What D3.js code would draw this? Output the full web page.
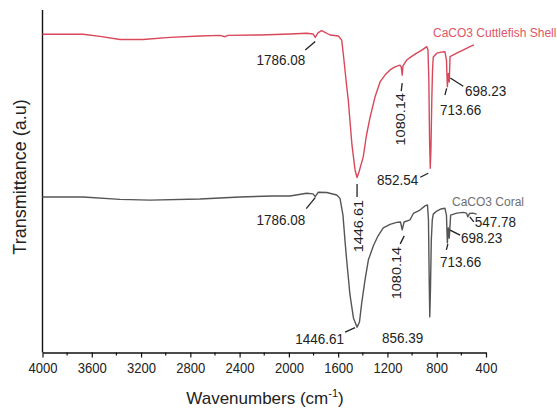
<!DOCTYPE html>
<html>
<head>
<meta charset="utf-8">
<script src="https://cdn.jsdelivr.net/npm/d3@7"></script>
<style>
body { margin:0; background:#fff; }
text { font-family:"Liberation Sans", Arial, sans-serif; fill:#222; }
.curve { fill:none; stroke-width:1.4px; stroke-linejoin:round; }
.leader { stroke:#222; stroke-width:1.3px; }
</style>
</head>
<body>
<div id="chart"></div>
<script>
// FTIR spectra: wavenumber (cm-1) and transmittance (a.u.)
var shellWn = [4000,3671,3533,3371,3184,2965,2722,2559,2519,2494,2235,1991,1856,1804,1786,1764,1734,1666,1599,1571,1553,1532,1518,1488,1463,1446.61,1431,1396,1370,1342,1301,1260,1220,1179,1139,1098,1088,1080.14,1074,1044,1009,963,920,881,871,864,858,852.54,847,840,834,828,800,765,733,721,713.66,706,698.23,692,638,587,530,498];
var shellT  = [92.9,92.9,92.3,91.4,91.4,92.0,92.4,92.6,92.2,92.6,92.7,93.0,93.2,93.0,92.0,93.3,94.0,92.7,92.4,91.2,85.4,78.1,73.7,60.6,53.3,51.1,52.7,57.2,63.5,68.5,74.6,79.0,81.0,82.5,83.4,83.9,83.4,81.0,83.7,85.4,86.3,87.4,88.3,89.3,88.3,79.6,62.0,53.8,59.1,73.7,82.5,86.3,87.4,87.7,87.8,85.4,77.6,81.4,79.0,86.4,87.4,88.3,89.3,89.8];

var coralWn = [4000,3671,3371,3127,2722,2397,2129,1991,1856,1804,1786,1761,1693,1612,1585,1561,1545,1531,1504,1476,1446.61,1427,1409,1382,1355,1315,1277,1234,1179,1125,1094,1080.14,1065,1017,990,936,895,875,867,861,856.39,851,844,836,828,800,765,733,721,713.66,706,698.23,687,638,584,558,547.78,534,506,476];
var coralT  = [45.4,45.4,44.7,44.5,44.8,45.4,45.7,45.7,46.5,46.3,45.5,46.8,46.7,46.0,45.0,40.1,32.8,27.0,16.8,10.1,7.4,8.9,14.4,21.2,27.0,31.1,34.0,36.4,37.4,38.0,38.1,35.8,38.1,38.7,40.6,41.6,42.8,43.1,38.7,21.2,10.4,18.2,32.8,38.7,40.4,41.3,41.9,42.1,40.1,32.0,36.4,33.4,40.1,40.7,40.9,40.7,39.6,40.6,40.7,40.4];

var xTicks = [4000,3600,3200,2800,2400,2000,1600,1200,800,400];
var shellPeaks = ["1786.08","1446.61","1080.14","852.54","713.66","698.23"];
var coralPeaks = ["1786.08","1446.61","1080.14","856.39","713.66","698.23","547.78"];
var seriesNames = ["CaCO3 Cuttlefish Shell","CaCO3 Coral"];

// label placement relative to each peak tip: leader [x1,y1,x2,y2], text [dx,dy]
var shellLayout = [
  {l:[-10,12.5,0,4], t:[-10,27.5], a:"end"},
  {l:[0,6.5,0,19.5], t:[6,22.5], a:"end", rot:true},
  {l:[0,8,-1,16], t:[3,18], a:"end", rot:true},
  {l:[-10,9,-2,5], t:[-12,16.7], a:"end"},
  {l:[-2.4,8.3,-0.7,1.6], t:[-7.4,28.3], a:"start"},
  {l:[1,-4,14,4.3], t:[15.8,14], a:"start"}
];
var coralLayout = [
  {l:[-9,12,0,1], t:[-10,28.5], a:"end"},
  {l:[-12,5,-2,0.5], t:[-13,17], a:"end"},
  {l:[2,6,-2,14], t:[-1,17], a:"end", rot:true},
  {l:null, t:[-6.5,26], a:"end"},
  {l:[-1,7,0.5,1], t:[-7.4,23.7], a:"start"},
  {l:[0.8,-8,10.8,-3], t:[11.8,5.3], a:"start"},
  {l:[2,0,6,5], t:[7,10], a:"start"}
];

var width = 557, height = 408;
var squeeze = 0.87; // figure text looks narrow

var svg = d3.select("#chart").append("svg")
  .attr("width", width)
  .attr("height", height);

var x = d3.scaleLinear().domain([4000, 400]).range([42.5, 486]);
var y = d3.scaleLinear().domain([0, 100]).range([352.5, 10]);

var line = d3.line()
  .x(function(d){ return x(d[0]); })
  .y(function(d){ return y(d[1]); });

function pairs(wn, t){ return wn.map(function(w, i){ return [w, t[i]]; }); }

var shell = pairs(shellWn, shellT);
var coral = pairs(coralWn, coralT);

// axes
var xAxis = d3.axisBottom(x)
  .tickValues(xTicks)
  .tickSize(5)
  .tickSizeOuter(0)
  .tickPadding(5)
  .tickFormat(d3.format("d"));

var gx = svg.append("g")
  .attr("transform", "translate(0," + y(0) + ")")
  .call(xAxis);
gx.select(".domain").attr("stroke", "#111").attr("stroke-width", 1.4);
gx.selectAll(".tick line").attr("stroke", "#111").attr("stroke-width", 1.2);
gx.selectAll(".tick text")
  .style("font-size", "15px")
  .attr("fill", "#222")
  .attr("transform", "scale(" + squeeze + ",1)");

// minor ticks
var minor = d3.range(3800, 400, -400);
gx.selectAll(".minor").data(minor).enter().append("line")
  .attr("class", "minor")
  .attr("x1", function(d){ return x(d); })
  .attr("x2", function(d){ return x(d); })
  .attr("y1", 0).attr("y2", 3)
  .attr("stroke", "#111").attr("stroke-width", 1.2);

svg.append("line")
  .attr("x1", x(4000)).attr("x2", x(4000))
  .attr("y1", y(100)).attr("y2", y(0))
  .attr("stroke", "#111").attr("stroke-width", 1.4);

// axis titles
var xt = svg.append("text")
  .attr("x", 265).attr("y", 404)
  .attr("text-anchor", "middle")
  .style("font-size", "17px");
xt.append("tspan").text("Wavenumbers (cm");
xt.append("tspan").text("-1").style("font-size", "11px").attr("dy", -7);
xt.append("tspan").text(")").attr("dy", 7);

svg.append("text")
  .attr("transform", "translate(26,177) rotate(-90)")
  .attr("text-anchor", "middle")
  .style("font-size", "18px")
  .text("Transmittance (a.u)");

// spectra
svg.append("path").datum(shell).attr("class", "curve")
  .attr("stroke", "#d9475a").attr("d", line);
svg.append("path").datum(coral).attr("class", "curve")
  .attr("stroke", "#555").attr("d", line);

// series names
svg.append("text")
  .attr("x", 433).attr("y", 37)
  .style("font-size", "12px")
  .style("fill", "#e05565")
  .text(seriesNames[0]);
svg.append("text")
  .attr("x", 452).attr("y", 206)
  .style("font-size", "12px")
  .style("fill", "#707070")
  .text(seriesNames[1]);

// peak annotations
function valueAt(data, wn){
  var best = data[0];
  data.forEach(function(d){ if (Math.abs(d[0] - wn) < Math.abs(best[0] - wn)) best = d; });
  return best[1];
}

function annotate(data, peaks, layout){
  peaks.forEach(function(p, i){
    var wn = +p, px = x(wn), py = y(valueAt(data, wn)), o = layout[i];
    if (o.l) {
      svg.append("line").attr("class", "leader")
        .attr("x1", px + o.l[0]).attr("y1", py + o.l[1])
        .attr("x2", px + o.l[2]).attr("y2", py + o.l[3]);
    }
    var tx = px + o.t[0], ty = py + o.t[1];
    svg.append("text")
      .attr("transform", "translate(" + tx + "," + ty + ")" +
        (o.rot ? " rotate(-90) scale(1," + squeeze + ")" : " scale(" + squeeze + ",1)"))
      .attr("text-anchor", o.a)
      .style("font-size", o.rot ? "14.5px" : "15.5px")
      .text(p);
  });
}

annotate(shell, shellPeaks, shellLayout);
annotate(coral, coralPeaks, coralLayout);
</script>
</body>
</html>
